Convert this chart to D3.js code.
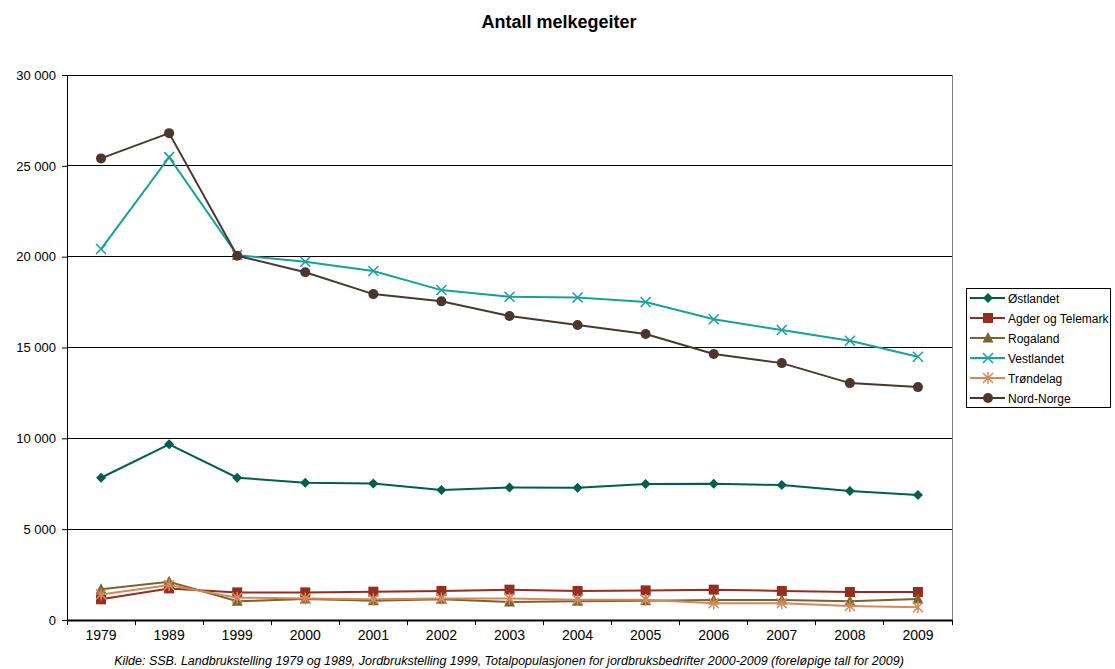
<!DOCTYPE html>
<html><head><meta charset="utf-8">
<script src="https://cdn.jsdelivr.net/npm/d3@7"></script>
<style>body{margin:0;background:#fff;} svg{display:block;}</style>
</head><body><svg id="c" width="1115" height="669"></svg>
<script>
const years = ["1979","1989","1999","2000","2001","2002","2003","2004","2005","2006","2007","2008","2009"];
const ostlandet = [7830,9670,7830,7560,7520,7150,7300,7280,7480,7500,7430,7100,6880];
const agder = [1140,1740,1520,1520,1560,1600,1670,1600,1630,1670,1600,1540,1540];
const rogaland = [1690,2110,1030,1160,1060,1140,990,1030,1060,1100,1100,1030,1160];
const vestlandet = [20420,25480,20090,19720,19210,18160,17790,17750,17500,16550,15960,15370,14490];
const trondelag = [1410,1930,1230,1190,1140,1190,1190,1120,1120,920,920,770,700];
const nordnorge = [25410,26800,20050,19140,17940,17540,16730,16240,15740,14640,14140,13040,12820];
const yTicks = [0,5000,10000,15000,20000,25000,30000];
const seriesNames = ["Østlandet","Agder og Telemark","Rogaland","Vestlandet","Trøndelag","Nord-Norge"];

const series = [
  {name:seriesNames[0], values:ostlandet, color:"#005f50", marker:"diamond"},
  {name:seriesNames[1], values:agder, color:"#962d1e", marker:"square"},
  {name:seriesNames[2], values:rogaland, color:"#7a6330", marker:"triangle"},
  {name:seriesNames[3], values:vestlandet, color:"#14a39a", marker:"x"},
  {name:seriesNames[4], values:trondelag, color:"#d4895a", marker:"star"},
  {name:seriesNames[5], values:nordnorge, color:"#4b3630", marker:"circle"}
];

const svg = d3.select("#c");
const L=67, R=952, T=75, B=620;
const x = d3.scaleBand().domain(years).range([L,R]);
const y = d3.scaleLinear().domain([0,30000]).range([B,T]);
const fmt = v => d3.format(",")(v).replace(/,/g," ");

// title
svg.append("text").attr("x",559).attr("y",28).attr("text-anchor","middle")
  .attr("font-family","Liberation Sans, Arial, sans-serif").attr("font-weight","bold").attr("font-size",18).text("Antall melkegeiter");

// gridlines
svg.append("g").selectAll("line").data(yTicks.filter(d=>d>0)).join("line")
  .attr("x1",L).attr("x2",R).attr("y1",d=>y(d)).attr("y2",d=>y(d))
  .attr("stroke","#000").attr("stroke-width",1).attr("shape-rendering","crispEdges");
// right border
svg.append("line").attr("x1",R).attr("x2",R).attr("y1",T).attr("y2",B).attr("stroke","#808080").attr("shape-rendering","crispEdges");

// y axis
const ya = svg.append("g").attr("transform",`translate(${L},0)`)
  .call(d3.axisLeft(y).tickValues(yTicks).tickFormat(fmt).tickSize(5).tickPadding(6));
ya.select(".domain").attr("stroke","#000");
ya.selectAll("text").attr("font-family","Liberation Sans, Arial, sans-serif").attr("font-size",13).attr("fill","#000");

// x axis
const xa = svg.append("g").attr("transform",`translate(0,${B})`)
  .call(d3.axisBottom(x).tickSize(0).tickPadding(10));
xa.select(".domain").attr("stroke","#000").attr("stroke-width",2);
xa.selectAll("text").attr("font-family","Liberation Sans Narrow, Liberation Sans, Arial, sans-serif").attr("font-size",14).attr("fill","#000");
// x tick marks at band boundaries
const bounds = years.map(d=>x(d)).concat([R]);
svg.append("g").selectAll("line").data(bounds).join("line")
  .attr("x1",d=>d).attr("x2",d=>d).attr("y1",B).attr("y2",B+5).attr("stroke","#000").attr("shape-rendering","crispEdges");

// footnote
svg.append("text").attr("x",509).attr("y",665).attr("text-anchor","middle")
  .attr("font-family","Liberation Sans Narrow, Liberation Sans, Arial, sans-serif").attr("font-style","italic").attr("font-size",12.5)
  .text("Kilde: SSB. Landbrukstelling 1979 og 1989, Jordbrukstelling 1999, Totalpopulasjonen for jordbruksbedrifter 2000-2009 (foreløpige tall for 2009)");

function drawMarker(g, type, color){
  if(type==="diamond") g.append("path").attr("d","M0,-5L5,0L0,5L-5,0Z").attr("fill",color);
  else if(type==="square") g.append("rect").attr("x",-5).attr("y",-5).attr("width",10).attr("height",10).attr("fill",color);
  else if(type==="triangle") g.append("path").attr("d","M0,-6L5.5,4.5L-5.5,4.5Z").attr("fill",color);
  else if(type==="circle") g.append("circle").attr("r",5).attr("fill",color);
  else if(type==="x") g.append("path").attr("d","M-5,-5L5,5M-5,5L5,-5").attr("stroke",color).attr("stroke-width",1.5).attr("fill","none");
  else if(type==="star") g.append("path").attr("d","M-5,-5L5,5M-5,5L5,-5M0,-6L0,6").attr("stroke",color).attr("stroke-width",1.5).attr("fill","none");
}

const cx = d => x(d)+x.bandwidth()/2;
const line = d3.line().x((v,i)=>cx(years[i])).y(v=>y(v));
const order = [0,1,2,4,3,5];
order.forEach(si=>{
  const s = series[si];
  const g = svg.append("g");
  g.append("path").attr("d",line(s.values)).attr("fill","none").attr("stroke",s.color).attr("stroke-width",2);
  s.values.forEach((v,i)=>{
    const m = g.append("g").attr("transform",`translate(${cx(years[i])},${y(v)})`);
    drawMarker(m, s.marker, s.color);
  });
});

// legend
const lg = svg.append("g");
lg.append("rect").attr("x",966.5).attr("y",288.5).attr("width",144).attr("height",119).attr("fill","#fff").attr("stroke","#000");
series.forEach((s,i)=>{
  const yy = 298 + i*20;
  lg.append("line").attr("x1",970).attr("x2",1005).attr("y1",yy).attr("y2",yy).attr("stroke",s.color).attr("stroke-width",2);
  const m = lg.append("g").attr("transform",`translate(988,${yy})`);
  drawMarker(m, s.marker, s.color);
  lg.append("text").attr("x",1008).attr("y",yy+4.5).attr("font-family","Liberation Sans, Arial, sans-serif").attr("font-size",12).text(s.name);
});
</script></body></html>
